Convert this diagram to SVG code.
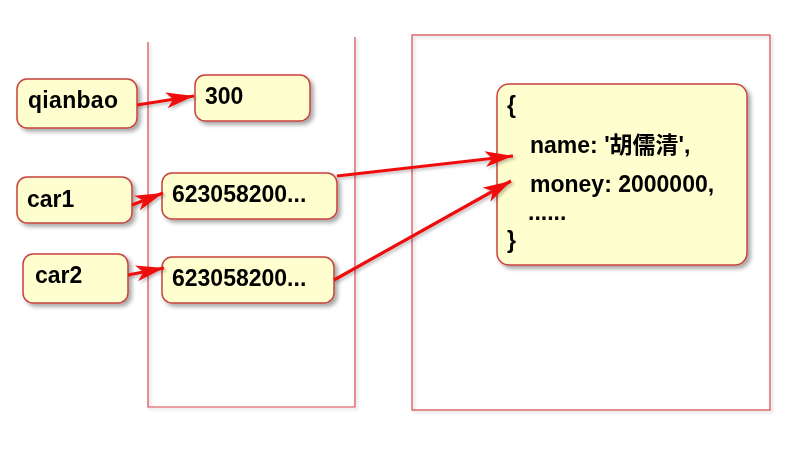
<svg xmlns="http://www.w3.org/2000/svg" width="800" height="471" viewBox="0 0 800 471">
<defs>
<filter id="sh" x="-10%" y="-10%" width="130%" height="130%">
<feDropShadow dx="3" dy="3" stdDeviation="2" flood-color="#000" flood-opacity="0.35"/>
</filter>
<filter id="fsh" x="-5%" y="-5%" width="110%" height="110%">
<feDropShadow dx="2" dy="2" stdDeviation="1.5" flood-color="#000" flood-opacity="0.2"/>
</filter>
<filter id="csh" x="-10%" y="-30%" width="130%" height="160%">
<feDropShadow dx="2" dy="2" stdDeviation="1.5" flood-color="#000" flood-opacity="0.25"/>
</filter>
<marker id="ah" markerUnits="userSpaceOnUse" markerWidth="30" markerHeight="18" refX="28" refY="8" orient="auto">
<path d="M0,0 L28,8 L0,16 L7,8 z" fill="#EE1111"/>
</marker>
<style>
.frame{fill:none;stroke:#D8464B;stroke-width:1.2;}
.node{fill:#FEFECE;stroke:#C8423F;stroke-width:1.5;}
.t{font-family:"Liberation Sans",Arial,"Noto Sans CJK SC",sans-serif;font-weight:bold;font-size:23px;fill:#000;}
.c{fill:none;stroke:#EE1111;stroke-width:3.2;}
</style>
</defs>
<g id="frames" filter="url(#fsh)">
<polyline class="frame" points="148,42 148,407 355,407 355,37"/>
<rect class="frame" x="412" y="35" width="358" height="375"/>
</g>
<g id="qianbao" filter="url(#sh)">
<rect class="node" x="17" y="79" width="120" height="49" rx="10"/>
<text class="t" x="28" y="108" textLength="90">qianbao</text>
</g>
<g id="v300" filter="url(#sh)">
<rect class="node" x="195" y="75" width="115" height="46" rx="10"/>
<text class="t" x="205" y="104">300</text>
</g>
<g id="car1" filter="url(#sh)">
<rect class="node" x="17" y="177" width="115" height="46" rx="10"/>
<text class="t" x="27" y="207">car1</text>
</g>
<g id="ref1" filter="url(#sh)">
<rect class="node" x="162" y="173" width="175" height="46" rx="10"/>
<text class="t" x="172" y="202">623058200...</text>
</g>
<g id="car2" filter="url(#sh)">
<rect class="node" x="23" y="254" width="105" height="49" rx="10"/>
<text class="t" x="35" y="283">car2</text>
</g>
<g id="ref2" filter="url(#sh)">
<rect class="node" x="162" y="257" width="172" height="46" rx="10"/>
<text class="t" x="172" y="286">623058200...</text>
</g>
<g id="obj" filter="url(#sh)">
<rect class="node" x="497" y="84" width="250" height="181" rx="12"/>
<text class="t" x="507" y="113">{</text>
<text class="t" x="530" y="153">name: '胡儒清',</text>
<text class="t" x="530" y="192">money: 2000000,</text>
<text class="t" x="528" y="220">......</text>
<text class="t" x="507" y="248">}</text>
</g>
<g id="connectors" filter="url(#csh)">
<line class="c" x1="137" y1="105" x2="194" y2="96" marker-end="url(#ah)"/>
<line class="c" x1="132" y1="205" x2="163" y2="193" marker-end="url(#ah)"/>
<line class="c" x1="128" y1="275" x2="164" y2="268" marker-end="url(#ah)"/>
<line class="c" x1="337" y1="176" x2="513" y2="156" marker-end="url(#ah)"/>
<line class="c" x1="334" y1="280" x2="511" y2="181" marker-end="url(#ah)"/>
</g>
</svg>
